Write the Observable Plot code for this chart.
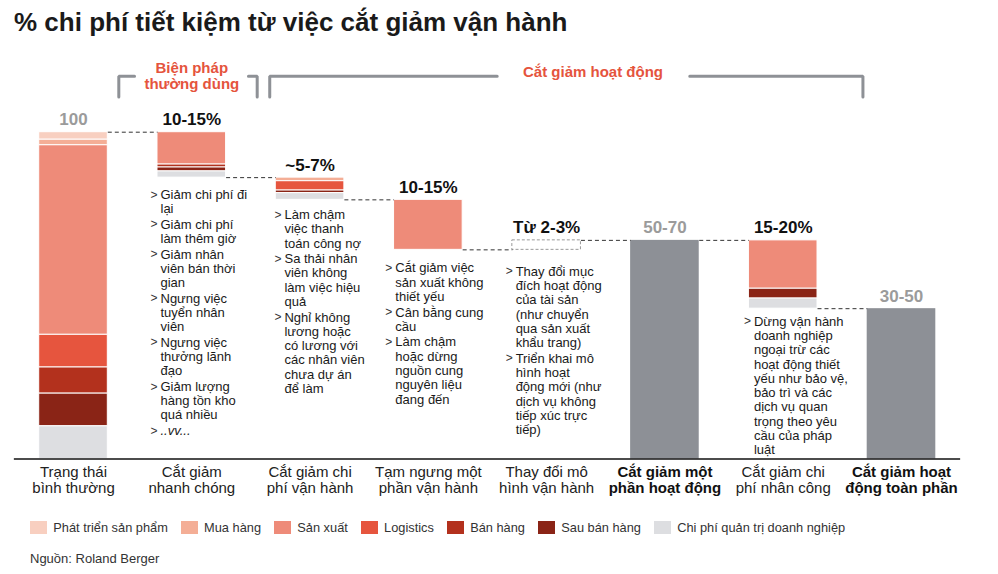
<!DOCTYPE html>
<html><head><meta charset="utf-8">
<script src="https://cdn.jsdelivr.net/npm/d3@7"></script>
<script src="https://cdn.jsdelivr.net/npm/@observablehq/plot@0.6"></script>
<style>
body{margin:0;background:#fff;font-family:"Liberation Sans",Arial,sans-serif;width:998px;height:574px;overflow:hidden}
#title{height:44px;box-sizing:border-box;padding:7px 0 0 14px;font-size:26px;font-weight:bold;color:#1a1a1a;line-height:30px;white-space:nowrap}
#chart{height:462px}
#chart svg{overflow:visible;display:block}
#legend{display:flex;margin:14.3px 0 0 30px;font-size:12.8px;color:#333;height:14px;align-items:center;white-space:nowrap}
.item{display:flex;align-items:center;margin-right:13px}
.sw{width:16.7px;height:13.3px;margin-right:6.6px}
#source{margin:16.5px 0 0 30px;font-size:13px;color:#333;line-height:15px}
</style></head>
<body>
<div id="title">% chi phí tiết kiệm từ việc cắt giảm vận hành</div>
<div id="chart"></div>
<div id="legend"></div>
<div id="source">Nguồn: Roland Berger</div>
<script>
// ---------- DATA ----------
const categories = [
  "Trạng thái\nbình thường", "Cắt giảm\nnhanh chóng", "Cắt giảm chi\nphí vận hành",
  "Tạm ngưng một\nphần vận hành", "Thay đổi mô\nhình vận hành", "Cắt giảm một\nphần hoạt động",
  "Cắt giảm chi\nphí nhân công", "Cắt giảm hoạt\nđộng toàn phần"
];
const boldCategories = [5, 7];
const seriesNames = ["Phát triển sản phẩm","Mua hàng","Sản xuất","Logistics","Bán hàng","Sau bán hàng","Chi phí quản trị doanh nghiệp"];
const seriesColors = ["#f8cfc0","#f4ae96","#ee8b79","#e6553e","#b3311d","#8a2416","#dddee1"];
// segment values, in the order of seriesNames (stacked from top downward)
const baselineCosts   = [2.3, 1.7, 58, 10, 8, 10, 10];
const quickCut        = [0, 0, 9.9, 0, 0.9, 1.2, 1.9];
const opexCut         = [0, 1.1, 0, 2.85, 0, 0.8, 2.05];
const partialSuspend  = [0, 0, 15.3, 0, 0, 0, 0];
const modelChangeGain = 2.9;
const laborCut        = [0, 0, 14.8, 0, 0, 3.0, 3.1];
const valueLabels = ["100","10-15%","~5-7%","10-15%","Từ 2-3%","50-70","15-20%","30-50"];
const grayLabelBars = [0, 5, 7];
const notesQuickCut = [["Giảm chi phí đi","lại"],["Giảm chi phí","làm thêm giờ"],["Giảm nhân","viên bán thời","gian"],["Ngưng việc","tuyển nhân","viên"],["Ngưng việc","thưởng lãnh","đạo"],["Giảm lượng","hàng tồn kho","quá nhiều"],["..vv..."]];
const notesOpex = [["Làm chậm","việc thanh","toán công nợ"],["Sa thải nhân","viên không","làm việc hiệu","quả"],["Nghỉ không","lương hoặc","có lương với","các nhân viên","chưa dự án","để làm"]];
const notesSuspend = [["Cắt giảm việc","sản xuất không","thiết yếu"],["Cân bằng cung","cầu"],["Làm chậm","hoặc dừng","nguồn cung","nguyên liệu","đang đến"]];
const notesModel = [["Thay đổi mục","đích hoạt động","của tài sản","(như chuyển","qua sản xuất","khẩu trang)"],["Triển khai mô","hình hoạt","động mới (như","dịch vụ không","tiếp xúc trực","tiếp)"]];
const notesLabor = [["Dừng vận hành","doanh nghiệp","ngoại trừ các","hoạt động thiết","yếu như bảo vệ,","bảo trì và các","dịch vụ quan","trọng theo yêu","cầu của pháp","luật"]];
const groupLabels = ["Biện pháp\nthường dùng", "Cắt giảm hoạt động"];

// ---------- LAYOUT ----------
const W = 998, H = 462, mL = 13.86, mR = 37.86, mT = 87.7, mB = 47.5;
const kx = (W - mL - mR) / 8, ky = (H - mT - mB) / 100;
const half = 0.29;

// ---------- BUILD ----------
const segments = [];
function stackDown(i, top, values) {
  let t = top;
  values.forEach((v, j) => { if (v > 0) { segments.push({i, series: seriesNames[j], y2: t, y1: t - v}); t -= v; } });
  return t;
}
stackDown(0, 100, baselineCosts);
const L1 = stackDown(1, 100, quickCut);
const L2 = stackDown(2, L1, opexCut);
const L3 = stackDown(3, L2, partialSuspend);
const L4 = L3 + modelChangeGain;
const L6 = stackDown(6, L4, laborCut);
const grayBars = [{i: 5, y: L4}, {i: 7, y: L6}];
const box = [{i: 4, y1: L3, y2: L4}];
const tops = [100, 100, L1, L2, L4, L4, L4, L6];
const connectors = [[0,100],[1,L1],[2,L2],[3,L3],[4,L4],[5,L4],[6,L6]].map(([i,y]) => ({x1: i + half, x2: i + 1 - half, y}));
const labels = valueLabels.map((t, i) => ({i, t, y: tops[i], gray: grayLabelBars.includes(i)}));

const noteCols = [
  {bar: 1, items: notesQuickCut, bottom: L1, dxPx: -31.3, gapPx: 17.2},
  {bar: 2, items: notesOpex, bottom: L2, dxPx: -25.6, gapPx: 15},
  {bar: 3, items: notesSuspend, bottom: L3, dxPx: -33, gapPx: 18.4},
  {bar: 4, items: notesModel, bottom: L3, dxPx: -31, gapPx: 21.7},
  {bar: 6, items: notesLabor, bottom: L6, dxPx: -29.3, gapPx: 12.8}
];
const lh = 14.3, bulletGap = 1.2;
const noteLines = [], bullets = [];
noteCols.forEach(c => {
  let off = c.gapPx;
  c.items.forEach(item => {
    item.forEach((line, li) => {
      const y = c.bottom - off / ky, x = c.bar + c.dxPx / kx;
      noteLines.push({x, y, text: line, italic: line.startsWith("..")});
      if (li === 0) bullets.push({x: x - 10 / kx, y});
      off += lh;
    });
    off += bulletGap;
  });
});

// brackets (in chart units)
const yTop = 100 + (131.7 - 75.7) / ky, yBot = 100 + (131.7 - 96.5) / ky;
const brk = [
  {left: 0.383, gapL: 0.516, gapR: 1.479, right: 1.553, tx: 1.0, ty: 100 + (131.7 - 75.3) / ky, label: groupLabels[0]},
  {left: 1.659, gapL: 3.582, gapR: 5.21, right: 6.674, tx: 4.392, ty: 100 + (131.7 - 71.7) / ky, label: groupLabels[1]}
];
const brkPts = [];
brk.forEach((b, n) => {
  brkPts.push({x: b.left, y: yBot, z: n + "a"}, {x: b.left, y: yTop, z: n + "a"}, {x: b.gapL, y: yTop, z: n + "a"});
  brkPts.push({x: b.gapR, y: yTop, z: n + "b"}, {x: b.right, y: yTop, z: n + "b"}, {x: b.right, y: yBot, z: n + "b"});
});

const catData = categories.map((c, i) => ({i, c, bold: boldCategories.includes(i)}));
const font = '"Liberation Sans", Arial, sans-serif';

const chart = Plot.plot({
  width: W, height: H, marginLeft: mL, marginRight: mR, marginTop: mT, marginBottom: mB,
  x: {type: "linear", domain: [-0.5, 7.5], axis: null},
  y: {domain: [0, 100], axis: null},
  color: {domain: seriesNames, range: seriesColors},
  style: {fontFamily: font, background: "white", overflow: "visible"},
  marks: [
    Plot.rect(segments, {x1: d => d.i - half, x2: d => d.i + half, y1: "y1", y2: "y2", fill: "series", stroke: "white", strokeWidth: 1}),
    Plot.rect(grayBars, {x1: d => d.i - half, x2: d => d.i + half, y1: 0, y2: "y", fill: "#8d9096"}),
    Plot.rect(box, {x1: d => d.i - half, x2: d => d.i + half, y1: "y1", y2: "y2", fill: "white", stroke: "#9a9a9a", strokeWidth: 1, strokeDasharray: "3,2"}),
    Plot.link(connectors, {x1: "x1", x2: "x2", y1: "y", y2: "y", stroke: "#333", strokeWidth: 1, strokeDasharray: "4,3"}),
    Plot.ruleY([0], {stroke: "#111", strokeWidth: 1.5}),
    Plot.text(labels.filter(d => !d.gray), {x: "i", y: "y", text: "t", dy: -12.5, fontSize: 17, fontWeight: "bold", fill: "#111"}),
    Plot.text(labels.filter(d => d.gray), {x: "i", y: "y", text: "t", dy: -12.5, fontSize: 17, fontWeight: "bold", fill: "#9b9b9b"}),
    Plot.text(catData.filter(d => !d.bold), {x: "i", y: 0, text: "c", lineAnchor: "top", dy: 6, fontSize: 15, lineHeight: 1.11, fill: "#222"}),
    Plot.text(catData.filter(d => d.bold), {x: "i", y: 0, text: "c", lineAnchor: "top", dy: 6, fontSize: 15, lineHeight: 1.11, fill: "#111", fontWeight: "bold"}),
    Plot.text(noteLines.filter(d => !d.italic), {x: "x", y: "y", text: "text", textAnchor: "start", fontSize: 13, fill: "#1a1a1a"}),
    Plot.text(noteLines.filter(d => d.italic), {x: "x", y: "y", text: "text", textAnchor: "start", fontSize: 13, fill: "#1a1a1a", fontStyle: "italic"}),
    Plot.text(bullets, {x: "x", y: "y", text: () => ">", textAnchor: "start", fontSize: 12, fill: "#333"}),
    Plot.line(brkPts, {x: "x", y: "y", z: "z", stroke: "#8e9196", strokeWidth: 3, strokeLinejoin: "miter", curve: "linear"}),
    Plot.text(brk, {x: "tx", y: "ty", text: "label", fontSize: 15, fontWeight: "bold", fill: "#e5543d", lineHeight: 1.07})
  ]
});
document.getElementById("chart").appendChild(chart);

const lg = document.getElementById("legend");
seriesNames.forEach((s, i) => {
  const it = document.createElement("div"); it.className = "item";
  const sw = document.createElement("div"); sw.className = "sw"; sw.style.background = seriesColors[i];
  const tx = document.createElement("span"); tx.textContent = s;
  it.appendChild(sw); it.appendChild(tx); lg.appendChild(it);
});
</script>
</body></html>
